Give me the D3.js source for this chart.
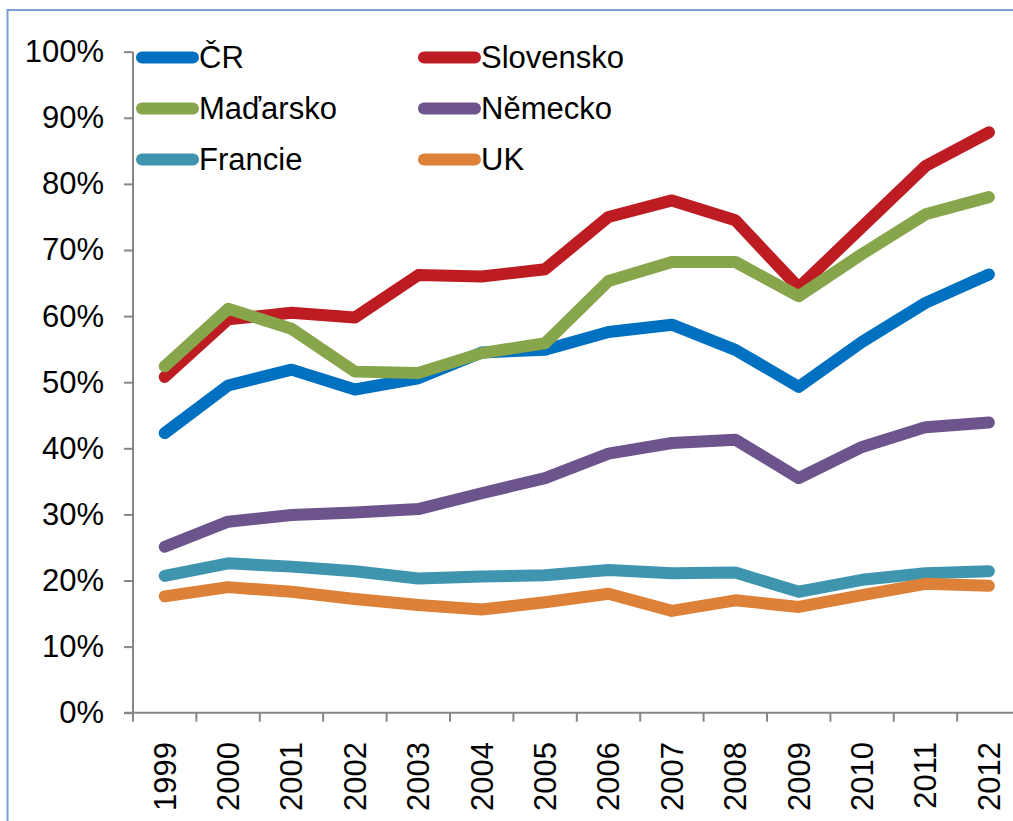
<!DOCTYPE html>
<html>
<head>
<meta charset="utf-8">
<script src="https://cdn.jsdelivr.net/npm/d3@7"></script>
<style>
  html, body { margin: 0; padding: 0; background: #fff; }
  svg { display: block; }
  text { font-family: "Liberation Sans", Arial, sans-serif; fill: #000; }
</style>
</head>
<body>
<svg id="chart" width="1013" height="821"></svg>
<script>
const years = ["1999","2000","2001","2002","2003","2004","2005","2006","2007","2008","2009","2010","2011","2012"];
const yTicks = [0, 0.1, 0.2, 0.3, 0.4, 0.5, 0.6, 0.7, 0.8, 0.9, 1.0];

const seriesNames = ["ČR", "Slovensko", "Maďarsko", "Německo", "Francie", "UK"];
const seriesColors = ["#0070C0", "#BE1C23", "#87A54B", "#6D548D", "#3F95AE", "#DC8137"];

const cr        = [42.3, 49.5, 51.9, 48.9, 50.6, 54.5, 54.9, 57.6, 58.7, 54.9, 49.3, 56.1, 62.0, 66.3];
const slovensko = [50.8, 59.5, 60.5, 59.8, 66.2, 66.0, 67.1, 75.0, 77.5, 74.5, 64.3, 73.5, 82.7, 87.8];
const madarsko  = [52.4, 61.1, 58.1, 51.6, 51.4, 54.4, 55.9, 65.3, 68.2, 68.2, 63.0, 69.4, 75.4, 78.0];
const nemecko   = [25.1, 28.9, 29.9, 30.3, 30.8, 33.2, 35.5, 39.2, 40.8, 41.3, 35.5, 40.2, 43.2, 43.9];
const francie   = [20.7, 22.6, 22.1, 21.4, 20.3, 20.6, 20.8, 21.6, 21.1, 21.2, 18.3, 20.1, 21.1, 21.4];
const uk        = [17.6, 19.0, 18.3, 17.2, 16.3, 15.6, 16.7, 18.0, 15.4, 17.0, 16.0, 17.8, 19.5, 19.2];

const seriesValues = [cr, slovensko, madarsko, nemecko, francie, uk];

const FONT = 31;
const svg = d3.select("#chart");

// outer chart border (partly cropped)
svg.append("rect")
  .attr("x", 7.5).attr("y", 10).attr("width", 1100).attr("height", 900)
  .attr("fill", "none").attr("stroke", "#7A9FD1").attr("stroke-width", 2);

const plotLeft = 133, plotTop = 51.7, plotBottom = 712.7;
const step = 63.4;
const x = d3.scaleBand().domain(years).range([plotLeft, plotLeft + step * years.length]).padding(0);
const y = d3.scaleLinear().domain([0, 1]).range([plotBottom, plotTop]);

// Y axis
const yAxis = d3.axisLeft(y).tickValues(yTicks).tickSize(9).tickPadding(20)
  .tickFormat(d3.format(".0%"));
const gy = svg.append("g").attr("transform", `translate(${plotLeft},0)`).call(yAxis);
gy.select(".domain").attr("stroke", "#868686").attr("stroke-width", 2).attr("d", `M0,${plotTop}V${plotBottom}`);
gy.selectAll(".tick line").attr("stroke", "#868686").attr("stroke-width", 2);
gy.selectAll(".tick text").attr("font-size", FONT).attr("font-family", "Liberation Sans, Arial, sans-serif").attr("fill", "#000");

// X axis line
svg.append("line")
  .attr("x1", plotLeft - 9).attr("x2", plotLeft + step * years.length)
  .attr("y1", plotBottom).attr("y2", plotBottom)
  .attr("stroke", "#868686").attr("stroke-width", 2);

// X tick marks at category boundaries
const boundaries = years.map(d => x(d)).concat([x(years[years.length - 1]) + x.bandwidth()]);
svg.append("g").selectAll("line").data(boundaries).join("line")
  .attr("x1", d => d).attr("x2", d => d)
  .attr("y1", plotBottom).attr("y2", plotBottom + 9)
  .attr("stroke", "#868686").attr("stroke-width", 2);

// X labels rotated
svg.append("g").selectAll("text").data(years).join("text")
  .attr("transform", d => `translate(${x(d) + x.bandwidth() / 2},742) rotate(-90)`)
  .attr("text-anchor", "end")
  .attr("dy", "0.35em")
  .attr("font-size", FONT)
  .text(d => d);

// lines
const line = d3.line()
  .x((d, i) => x(years[i]) + x.bandwidth() / 2)
  .y(d => y(d / 100));

seriesValues.forEach((vals, k) => {
  svg.append("path")
    .datum(vals)
    .attr("d", line)
    .attr("fill", "none")
    .attr("stroke", seriesColors[k])
    .attr("stroke-width", 12)
    .attr("stroke-linecap", "round")
    .attr("stroke-linejoin", "round");
});

// legend
const legendCols = [137, 419];
const legendRows = [57.5, 108.5, 159.5];
seriesNames.forEach((name, k) => {
  const cx = legendCols[k % 2];
  const cy = legendRows[Math.floor(k / 2)];
  const g = svg.append("g");
  g.append("line")
    .attr("x1", cx + 5).attr("x2", cx + 56)
    .attr("y1", cy).attr("y2", cy)
    .attr("stroke", seriesColors[k]).attr("stroke-width", 12)
    .attr("stroke-linecap", "round");
  g.append("text")
    .attr("x", cx + 62).attr("y", cy)
    .attr("dy", "0.35em")
    .attr("font-size", FONT)
    .text(name);
});
</script>
</body>
</html>
